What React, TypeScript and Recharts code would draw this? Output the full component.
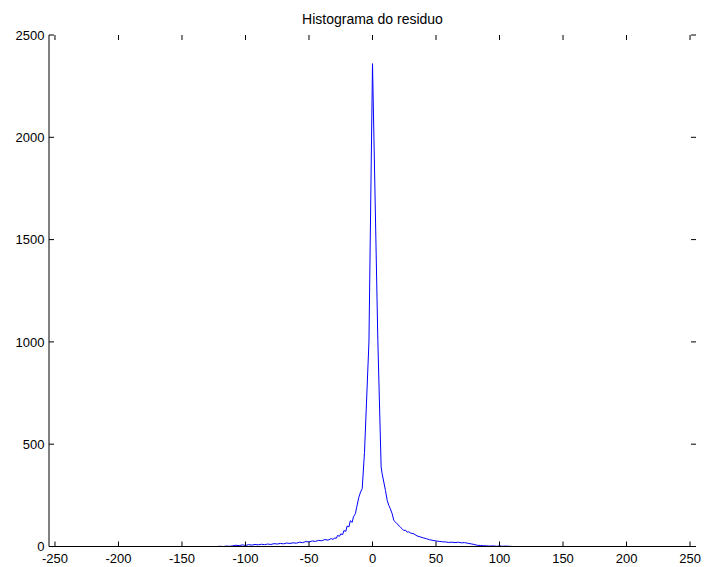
import { LineChart, Line, XAxis, YAxis } from "recharts";

const title = "Histograma do residuo";

// bin centres of the residual histogram, and the counts in each bin
const residualBins = [
  -255, -122.5, -120, -117.5, -115, -112.5, -110, -107.5, -105, -102.5, -100,
  -97.5, -95, -92.5, -90, -87.5, -85, -82.5, -80, -77.5, -75, -72.5, -70,
  -67.5, -65, -62.5, -60, -57.5, -55, -52.5, -50, -47.5, -45, -42.5, -40,
  -37.5, -35, -32.5, -31, -30, -28.5, -27.5, -26, -25, -23.5, -22.5, -21,
  -20, -18.5, -17.5, -16, -15, -13.5, -12.5, -10.8,
  -9.4, -8.1, -6.3, -2.8, 0, 4.2, 6.8, 7.6, 10.2, 11.6, 12.9, 14, 15.5, 16.8,
  18, 19.4, 21, 22, 23.5, 24.6, 26, 27.3, 28.5, 30, 31, 32.5, 35, 37.5, 40,
  42.5, 45, 47.5, 50, 52.5, 55,
  57.5, 60, 62.5, 65, 67.5, 70, 72.5, 75, 77.5, 80, 82.5, 85, 87.5, 90, 92.5,
  95, 97.5, 100, 102.5, 105, 107.5, 110, 255,
];
const counts = [
  0, 0, 1, 0, 2, 1, 3, 6, 4, 8, 5,
  9, 7, 10, 8, 11, 9, 12, 10, 14, 12, 15, 13,
  17, 15, 18, 16, 21, 19, 24, 22, 27, 25, 30, 28,
  34, 31, 39, 34, 42, 40, 54, 50, 62, 58, 78, 74,
  100, 96, 126, 118, 145, 160, 190, 240,
  266, 283, 460, 1000, 2360, 1007, 388, 356, 274, 225, 200, 185, 160, 127,
  120, 111, 100, 94, 86, 78, 80, 70, 72, 66, 64, 62, 52, 47, 42,
  38, 33, 30, 27, 25, 23,
  22, 20, 21, 19, 21, 18, 19, 16, 13, 10, 6, 5, 4, 3, 2,
  3, 1, 3, 1, 2, 1, 0, 0,
];

const xTicks = [-250, -200, -150, -100, -50, 0, 50, 100, 150, 200, 250];
const yTicks = [0, 500, 1000, 1500, 2000, 2500];

const data = residualBins.map((bin, i) => ({ bin, count: counts[i] }));

const W = 705;
const H = 567;
const BOX = { left: 49, right: 696, top: 35, bottom: 546.5 };
const TICK_LEN = 5;
const FONT = '"Liberation Sans", Arial, Helvetica, sans-serif';

function XTick({ x, y, payload }: any) {
  return (
    <g>
      <line x1={x} x2={x} y1={BOX.bottom} y2={BOX.bottom - TICK_LEN} stroke="#000" />
      <line x1={x} x2={x} y1={BOX.top} y2={BOX.top + TICK_LEN} stroke="#000" />
      <text x={x} y={y + 16.5} textAnchor="middle" fontSize={13} fontFamily={FONT} fill="#000">
        {payload.value}
      </text>
    </g>
  );
}

function YTick({ x, y, payload }: any) {
  return (
    <g>
      <line x1={BOX.left} x2={BOX.left + TICK_LEN} y1={y} y2={y} stroke="#000" />
      <line x1={BOX.right} x2={BOX.right - TICK_LEN} y1={y} y2={y} stroke="#000" />
      <text x={x - 4.5} y={y + 4.6} textAnchor="end" fontSize={13} fontFamily={FONT} fill="#000">
        {payload.value}
      </text>
    </g>
  );
}

export default function App() {
  return (
    <div style={{ position: "absolute", left: 0, top: 0, width: W, height: H, background: "#fff" }}>
      <LineChart
        width={W}
        height={H}
        data={data}
        margin={{ top: BOX.top, right: W - BOX.right, bottom: 0, left: 0 }}
      >
        <XAxis
          dataKey="bin"
          type="number"
          domain={[-254.7, 254.7]}
          allowDataOverflow
          ticks={xTicks}
          interval={0}
          height={H - BOX.bottom}
          tickSize={0}
          tickMargin={0}
          tickLine={false}
          tick={<XTick />}
          axisLine={{ stroke: "#000" }}
        />
        <XAxis
          xAxisId="top"
          orientation="top"
          type="number"
          domain={[-254.7, 254.7]}
          height={0}
          tick={false}
          tickLine={false}
          axisLine={{ stroke: "#000" }}
        />
        <YAxis
          type="number"
          domain={[0, 2500]}
          ticks={yTicks}
          interval={0}
          width={BOX.left}
          tickSize={0}
          tickMargin={0}
          tickLine={false}
          tick={<YTick />}
          axisLine={{ stroke: "#000" }}
        />
        <YAxis
          yAxisId="right"
          orientation="right"
          type="number"
          domain={[0, 2500]}
          width={0}
          tick={false}
          tickLine={false}
          axisLine={{ stroke: "#000" }}
        />
        <Line
          type="linear"
          dataKey="count"
          stroke="#0000ff"
          strokeWidth={1}
          dot={false}
          isAnimationActive={false}
        />
      </LineChart>
      <svg width={W} height={30} style={{ position: "absolute", left: 0, top: 0 }}>
        <text x={372.5} y={24} textAnchor="middle" fontSize={14} fontFamily={FONT} fill="#000">
          {title}
        </text>
      </svg>
    </div>
  );
}
